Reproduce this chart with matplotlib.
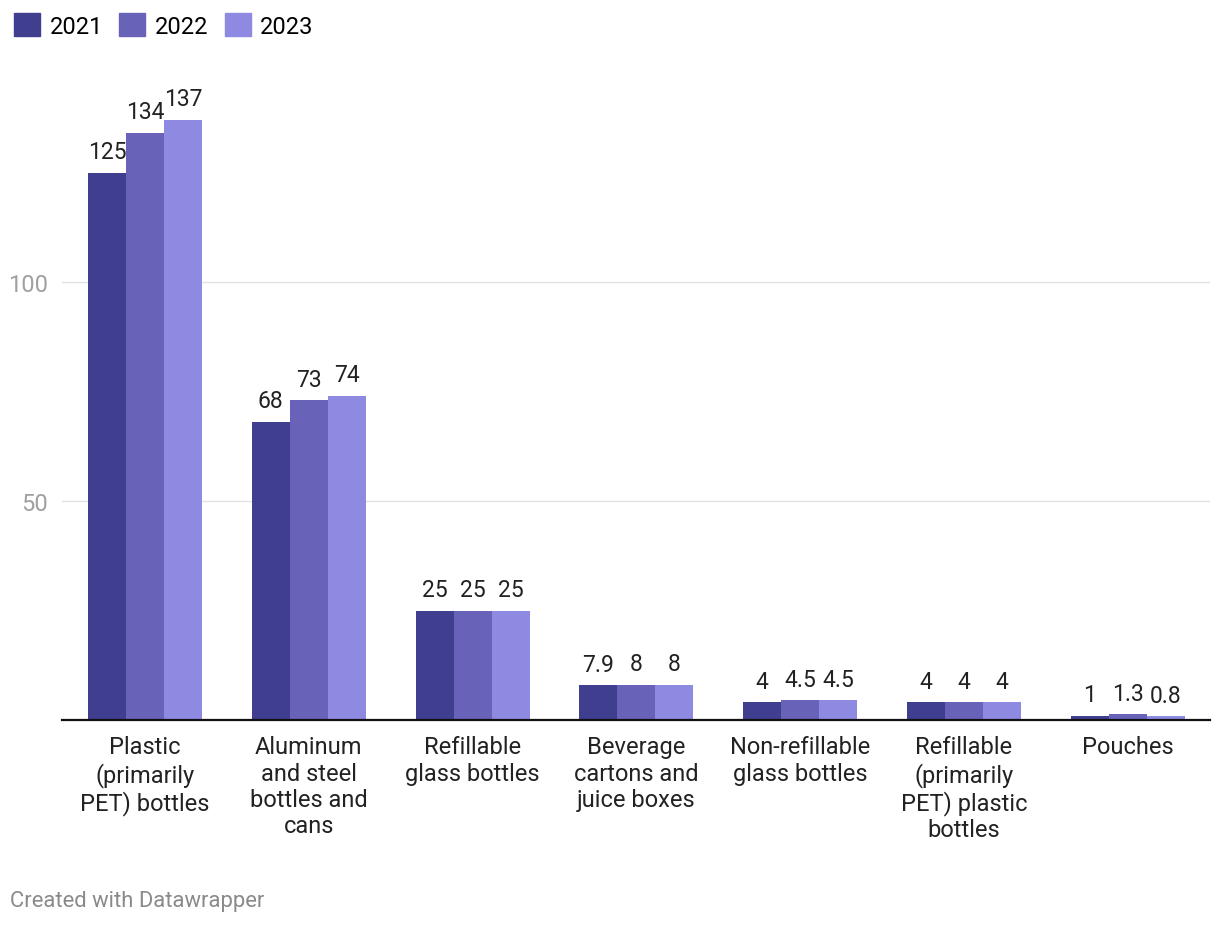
import numpy as np
import matplotlib.pyplot as plt
from matplotlib.patches import Patch

plt.rcParams['font.family'] = ['Roboto', 'DejaVu Sans']

categories = ["Plastic\n(primarily\nPET) bottles", "Aluminum\nand steel\nbottles and\ncans",
              "Refillable\nglass bottles", "Beverage\ncartons and\njuice boxes",
              "Non-refillable\nglass bottles", "Refillable\n(primarily\nPET) plastic\nbottles",
              "Pouches"]
years = ["2021", "2022", "2023"]
v2021 = [125, 68, 25, 7.9, 4, 4, 1]
v2022 = [134, 73, 25, 8, 4.5, 4, 1.3]
v2023 = [137, 74, 25, 8, 4.5, 4, 0.8]
colors = ["#403f8f", "#6863b8", "#8e89e1"]

fig = plt.figure(figsize=(12.2, 9.28), dpi=100)
ax = fig.add_axes([62 / 1220, 207 / 928, 1148 / 1220, 657 / 928])

x = np.arange(len(categories))
w = 0.232
for i, (vals, c) in enumerate(zip([v2021, v2022, v2023], colors)):
    bars = ax.bar(x + (i - 1) * w, vals, width=w, color=c, linewidth=0)
    for b, v in zip(bars, vals):
        ax.annotate(f"{v:g}", (b.get_x() + b.get_width() / 2, v), xytext=(0, 7),
                    textcoords="offset points", ha="center", va="bottom",
                    fontsize=16.5, color="#222222")

ax.set_xlim(-0.507, 6.502)
ax.set_ylim(0, 150)
ax.set_yticks([50, 100])
ax.yaxis.grid(True, color="#e2e2e2", linewidth=1)
ax.set_axisbelow(True)
ax.tick_params(axis="y", length=0, labelsize=17, labelcolor="#a0a0a0", pad=10)
ax.set_xticks(x)
ax.set_xticklabels(categories, fontsize=17, color="#222222", linespacing=1.18)
ax.tick_params(axis="x", length=0, pad=11)
for s in ["top", "right", "left"]:
    ax.spines[s].set_visible(False)
ax.spines["bottom"].set_color("#111111")
ax.spines["bottom"].set_linewidth(1.6)

handles = [Patch(color=c) for c in colors]
fig.legend(handles, years, loc="upper left", bbox_to_anchor=(0.0, 1.0), ncol=3, frameon=False,
           fontsize=17, handlelength=1.1, handleheight=1.1, handletextpad=0.4,
           columnspacing=0.7, borderaxespad=0.2)

fig.text(10 / 1220, 1 - 902 / 928, "Created with Datawrapper", fontsize=15.8, color="#8a8a8a",
         ha="left", va="center")

fig.savefig("out.png", dpi=100)
